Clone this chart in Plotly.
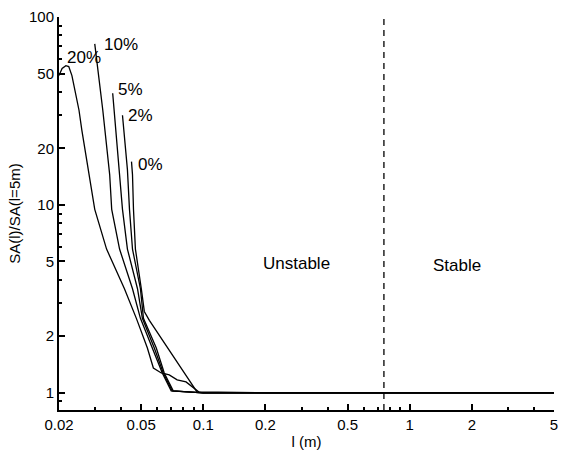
import plotly.graph_objects as go
import numpy as np

# Series values (l in m, SA(l)/SA(l=5m))
x20 = [0.0200, 0.0207, 0.0216, 0.0223, 0.0231, 0.0239, 0.0250, 0.0258, 0.0270, 0.0282, 0.0298,
       0.0340, 0.0415, 0.0474, 0.0536, 0.0573, 0.0626, 0.0684, 0.0747, 0.0825, 0.0953, 0.2, 0.5, 1, 2, 5]
y20 = [48.8, 53.2, 55.1, 54.5, 48.8, 40.7, 31.9, 25.0, 18.5, 14.0, 9.47,
       5.82, 3.58, 2.49, 1.73, 1.355, 1.275, 1.245, 1.171, 1.143, 1.01, 1, 1, 1, 1, 1]

x10 = [0.0298, 0.0326, 0.0352, 0.0360, 0.0393, 0.0454, 0.0496, 0.0566, 0.0633, 0.0699, 0.1, 5]
y10 = [72.0, 31.9, 14.5, 9.47, 5.82, 3.58, 2.49, 1.73, 1.275, 1.024, 1.0, 1.0]

x5 = [0.0364, 0.0389, 0.0406, 0.0429, 0.0480, 0.0507, 0.0579, 0.0640, 0.0707, 0.1, 5]
y5 = [39.3, 15.4, 9.47, 5.82, 3.58, 2.49, 1.73, 1.275, 1.024, 1.0, 1.0]

x2 = [0.0406, 0.0429, 0.0439, 0.0454, 0.0496, 0.0513, 0.0592, 0.0647, 0.0715, 0.1, 5]
y2 = [30.0, 15.4, 9.47, 5.82, 3.58, 2.49, 1.73, 1.275, 1.024, 1.0, 1.0]

x0 = [0.0449, 0.0454, 0.0459, 0.0469, 0.0501, 0.0518, 0.0548, 0.0932, 0.1, 5]
y0 = [17.0, 14.5, 9.47, 5.82, 3.58, 2.71, 2.43, 1.012, 1.0, 1.0]

series = [("20%", x20, y20), ("10%", x10, y10), ("5%", x5, y5), ("2%", x2, y2), ("0%", x0, y0)]

# Curve labels
label_text = ["20%", "10%", "5%", "2%", "0%"]
label_x = [0.0213, 0.0322, 0.0376, 0.0420, 0.0474]
label_y = [60.8, 71.2, 41.2, 30.0, 16.4]

region_text = ["Unstable", "Stable"]
region_x = [0.282, 1.69]
region_y = [4.85, 4.74]

boundary_x = 0.75

x_ticks = [0.02, 0.05, 0.1, 0.2, 0.5, 1, 2, 5]
x_ticklabels = ["0.02", "0.05", "0.1", "0.2", "0.5", "1", "2", "5"]
x_minor = [0.03, 0.04, 0.06, 0.07, 0.08, 0.09, 0.3, 0.4, 0.6, 0.7, 0.8, 0.9, 3, 4]
y_ticks = [1, 2, 5, 10, 20, 50, 100]
y_ticklabels = ["1", "2", "5", "10", "20", "50", "100"]
y_minor = [0.9, 3, 4, 6, 7, 8, 9, 30, 40, 60, 70, 80, 90]

FONT = "Liberation Sans, Arial, sans-serif"

fig = go.Figure()
for name, xs, ys in series:
    fig.add_trace(go.Scatter(x=xs, y=ys, mode="lines", name=name, hoverinfo="skip",
                             line=dict(color="black", width=1.3), showlegend=False))

for t, x, y in zip(label_text, label_x, label_y):
    fig.add_annotation(x=np.log10(x), y=np.log10(y), text=t, showarrow=False,
                       xanchor="left", yanchor="middle", font=dict(size=17, color="black"))

for t, x, y in zip(region_text, region_x, region_y):
    fig.add_annotation(x=np.log10(x), y=np.log10(y), text=t, showarrow=False,
                       xanchor="center", yanchor="middle", font=dict(size=17, color="black"))

fig.add_shape(type="line", x0=boundary_x, x1=boundary_x, xref="x", y0=0, y1=1, yref="paper",
              line=dict(color="black", width=1.3, dash="6px,5px"))

fig.update_xaxes(type="log", range=[np.log10(0.02), np.log10(5)],
                 tickmode="array", tickvals=x_ticks, ticktext=x_ticklabels,
                 ticks="inside", ticklen=6, tickwidth=1.5, tickcolor="black",
                 showline=True, linecolor="black", linewidth=2, showgrid=False, zeroline=False,
                 minor=dict(tickmode="array", tickvals=x_minor, ticks="inside", ticklen=3,
                            tickwidth=1.5, tickcolor="black", showgrid=False),
                 title=dict(text="l (m)", standoff=4, font=dict(size=15)), tickfont=dict(size=15))
fig.update_yaxes(type="log", range=[np.log10(0.81), 2],
                 tickmode="array", tickvals=y_ticks, ticktext=y_ticklabels,
                 ticks="inside", ticklen=6, tickwidth=1.5, tickcolor="black",
                 showline=True, linecolor="black", linewidth=2, showgrid=False, zeroline=False,
                 minor=dict(tickmode="array", tickvals=y_minor, ticks="inside", ticklen=3,
                            tickwidth=1.5, tickcolor="black", showgrid=False),
                 title=dict(text="SA(l)/SA(l=5m)", standoff=5, font=dict(size=15)),
                 tickfont=dict(size=15))

fig.update_layout(width=566, height=456, margin=dict(l=59, r=8, t=16, b=44),
                  paper_bgcolor="white", plot_bgcolor="white", hovermode=False,
                  font=dict(family=FONT, size=15, color="black"))

fig.write_html("out.html", config={"displayModeBar": False})
